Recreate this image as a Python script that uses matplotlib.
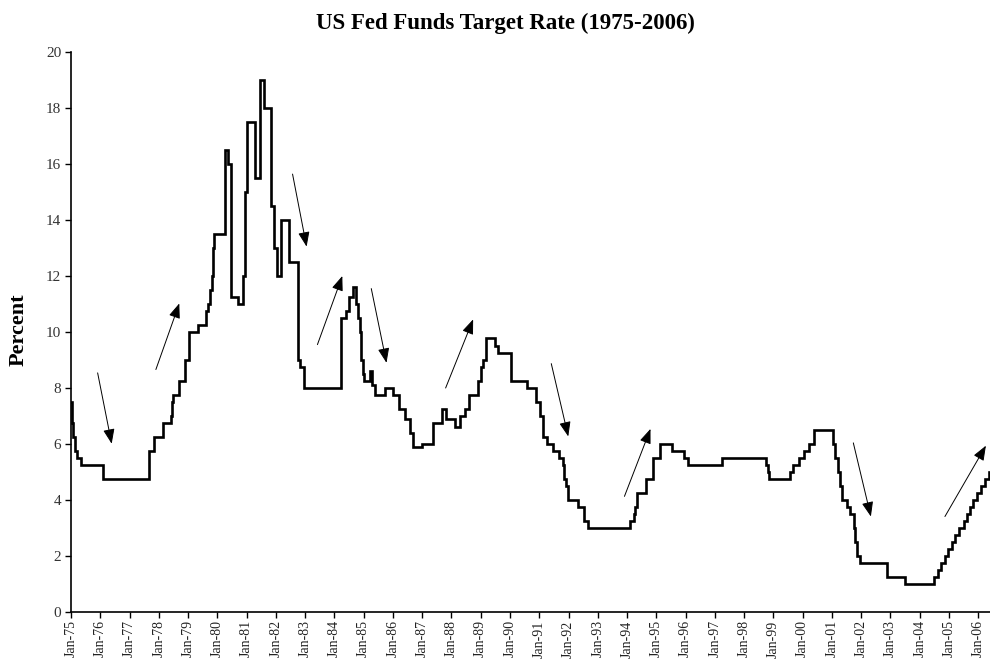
import numpy as np
import matplotlib
matplotlib.use("Agg")
import matplotlib.pyplot as plt

# Fed funds target rate change points (decimal year, percent)
change_years = [
    1975.00, 1975.04, 1975.08, 1975.14, 1975.22, 1975.35, 1976.08,
    1977.67, 1977.84, 1978.14, 1978.41, 1978.45, 1978.50, 1978.70, 1978.90,
    1979.03, 1979.33, 1979.61, 1979.68, 1979.76, 1979.83, 1979.85, 1979.90,
    1980.26, 1980.37, 1980.48, 1980.69, 1980.89, 1980.95, 1981.02, 1981.30,
    1981.46, 1981.58, 1981.83, 1981.94, 1982.05, 1982.17, 1982.45, 1982.74,
    1982.83, 1982.95, 1984.23, 1984.39, 1984.50, 1984.64, 1984.73, 1984.80,
    1984.87, 1984.92, 1984.97, 1985.02, 1985.20, 1985.30, 1985.40, 1985.72,
    1986.00, 1986.20, 1986.40, 1986.57, 1986.68, 1986.98, 1987.37, 1987.67,
    1987.80, 1988.12, 1988.30, 1988.45, 1988.60, 1988.90, 1989.00, 1989.08,
    1989.18, 1989.47, 1989.58, 1990.02, 1990.57, 1990.90, 1991.02, 1991.12,
    1991.25, 1991.47, 1991.67, 1991.80, 1991.86, 1991.92, 1991.97, 1992.33,
    1992.52, 1992.68, 1994.10, 1994.22, 1994.28, 1994.34, 1994.65, 1994.89,
    1995.13, 1995.53, 1995.96, 1996.08, 1997.25, 1998.76, 1998.81, 1998.86,
    1999.55, 1999.66, 1999.88, 2000.05, 2000.20, 2000.40, 2001.02, 2001.12,
    2001.22, 2001.29, 2001.34, 2001.52, 2001.62, 2001.74, 2001.78, 2001.86,
    2001.95, 2002.87, 2003.49, 2004.50, 2004.61, 2004.72, 2004.86, 2004.95,
    2005.09, 2005.22, 2005.33, 2005.50, 2005.60, 2005.72, 2005.83, 2005.95,
    2006.08, 2006.24, 2006.36,
]
target_rates = [
    7.50, 6.75, 6.25, 5.75, 5.50, 5.25, 4.75,
    5.75, 6.25, 6.75, 7.00, 7.50, 7.75, 8.25, 9.00,
    10.00, 10.25, 10.75, 11.00, 11.50, 12.00, 13.00, 13.50,
    16.50, 16.00, 11.25, 11.00, 12.00, 15.00, 17.50, 15.50,
    19.00, 18.00, 14.50, 13.00, 12.00, 14.00, 12.50, 9.00,
    8.75, 8.00, 10.50, 10.75, 11.25, 11.60, 11.00, 10.50,
    10.00, 9.00, 8.50, 8.25, 8.60, 8.10, 7.75, 8.00,
    7.75, 7.25, 6.90, 6.40, 5.90, 6.00, 6.75, 7.25,
    6.90, 6.60, 7.00, 7.25, 7.75, 8.25, 8.75, 9.00,
    9.80, 9.50, 9.25, 8.25, 8.00, 7.50, 7.00, 6.25,
    6.00, 5.75, 5.50, 5.25, 4.75, 4.50, 4.00, 3.75,
    3.25, 3.00, 3.25, 3.50, 3.75, 4.25, 4.75, 5.50,
    6.00, 5.75, 5.50, 5.25, 5.50, 5.25, 5.00, 4.75,
    5.00, 5.25, 5.50, 5.75, 6.00, 6.50, 6.00, 5.50,
    5.00, 4.50, 4.00, 3.75, 3.50, 3.00, 2.50, 2.00,
    1.75, 1.25, 1.00, 1.25, 1.50, 1.75, 2.00, 2.25,
    2.50, 2.75, 3.00, 3.25, 3.50, 3.75, 4.00, 4.25,
    4.50, 4.75, 5.00,
]
end_year = 2006.40

# trend arrows: (tail year, tail pct, head year, head pct)
arrows = [
    (1975.91, 8.54, 1976.39, 6.01),
    (1977.90, 8.66, 1978.70, 11.02),
    (1982.57, 15.64, 1983.05, 13.05),
    (1983.42, 9.55, 1984.27, 12.00),
    (1985.26, 11.55, 1985.78, 8.90),
    (1987.80, 8.00, 1988.74, 10.45),
    (1991.41, 8.87, 1991.99, 6.27),
    (1993.91, 4.13, 1994.80, 6.54),
    (2001.73, 6.04, 2002.33, 3.41),
    (2004.86, 3.41, 2006.26, 5.94),
]

tick_years = list(range(1975, 2007))
tick_labels = [f"Jan-{y % 100:02d}" for y in tick_years]

serif = ["Liberation Serif", "DejaVu Serif"]

fig = plt.figure(figsize=(9.9, 6.6), dpi=100)
ax = fig.add_axes([71 / 990, 1 - 612 / 660, 919 / 990, 560 / 660])

xs = np.append(change_years, end_year)
ys = np.append(target_rates, target_rates[-1])
ax.step(xs, ys, where="post", color="black", linewidth=1.9, solid_joinstyle="miter")

for x0, y0, x1, y1 in arrows:
    ax.annotate("", xy=(x1, y1), xytext=(x0, y0),
                arrowprops=dict(arrowstyle="-|>,head_length=0.9,head_width=0.35",
                                color="black", linewidth=0.7,
                                shrinkA=0, shrinkB=0))

ax.set_xlim(1975.0, end_year)
ax.set_ylim(0, 20)
ax.set_yticks(range(0, 21, 2))
ax.set_xticks(tick_years)
ax.set_xticklabels(tick_labels, rotation=90, fontfamily=serif, fontsize=10, color="#222222")
for lbl in ax.get_yticklabels():
    lbl.set_fontfamily(serif)
    lbl.set_fontsize(11)
    lbl.set_color("#333333")

ax.spines["top"].set_visible(False)
ax.spines["right"].set_visible(False)
ax.spines["left"].set_linewidth(1.2)
ax.spines["bottom"].set_linewidth(1.2)
ax.tick_params(direction="out", length=4, width=1, pad=3)
ax.tick_params(axis="x", pad=2)

fig.text(0.511, 0.965, "US Fed Funds Target Rate (1975-2006)", ha="center", va="center",
         fontfamily=serif, fontweight="bold", fontsize=16.5)
fig.text(0.019, 0.5, "Percent", ha="center", va="center", rotation=90,
         fontfamily=serif, fontweight="bold", fontsize=16)

fig.savefig("out.png", dpi=100)
